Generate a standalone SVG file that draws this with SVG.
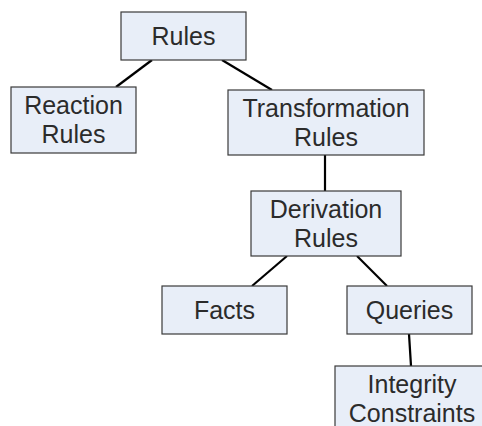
<svg xmlns="http://www.w3.org/2000/svg" width="482" height="426" viewBox="0 0 482 426">
  <style>
    .box { fill: #e8eef8; stroke: #3a3a3a; stroke-width: 1.2; }
    .label { font-family: "Liberation Sans", Arial, sans-serif; font-size: 25px; fill: #2b2b2b; text-anchor: middle; }
    .edge { stroke: #000; stroke-width: 2.2; fill: none; }
  </style>
  <rect width="482" height="426" fill="#ffffff"/>

  <g id="connectors">
    <line class="edge" x1="152" y1="60" x2="116" y2="87"/>
    <line class="edge" x1="222" y1="60" x2="272" y2="90"/>
    <line class="edge" x1="325" y1="155" x2="325" y2="191"/>
    <line class="edge" x1="287" y1="256" x2="252" y2="286"/>
    <line class="edge" x1="357" y1="256" x2="387" y2="286"/>
    <line class="edge" x1="409" y1="334" x2="411" y2="366"/>
  </g>

  <g id="rules">
    <rect class="box" x="121" y="12" width="125" height="48"/>
    <text class="label" x="183.5" y="44.5">Rules</text>
  </g>

  <g id="reaction-rules">
    <rect class="box" x="11" y="87" width="125" height="66"/>
    <text class="label" x="73.5" y="114">Reaction</text>
    <text class="label" x="73.5" y="143">Rules</text>
  </g>

  <g id="transformation-rules">
    <rect class="box" x="228" y="90" width="196" height="65"/>
    <text class="label" x="326" y="116.5">Transformation</text>
    <text class="label" x="326" y="145.5">Rules</text>
  </g>

  <g id="derivation-rules">
    <rect class="box" x="251" y="191" width="150" height="65"/>
    <text class="label" x="326" y="217.5">Derivation</text>
    <text class="label" x="326" y="246.5">Rules</text>
  </g>

  <g id="facts">
    <rect class="box" x="162" y="286" width="125" height="48"/>
    <text class="label" x="224.5" y="318.5">Facts</text>
  </g>

  <g id="queries">
    <rect class="box" x="347" y="286" width="125" height="48"/>
    <text class="label" x="409.5" y="318.5">Queries</text>
  </g>

  <g id="integrity-constraints">
    <rect class="box" x="335" y="366" width="155" height="66"/>
    <text class="label" x="412" y="393">Integrity</text>
    <text class="label" x="412" y="422">Constraints</text>
  </g>
</svg>
